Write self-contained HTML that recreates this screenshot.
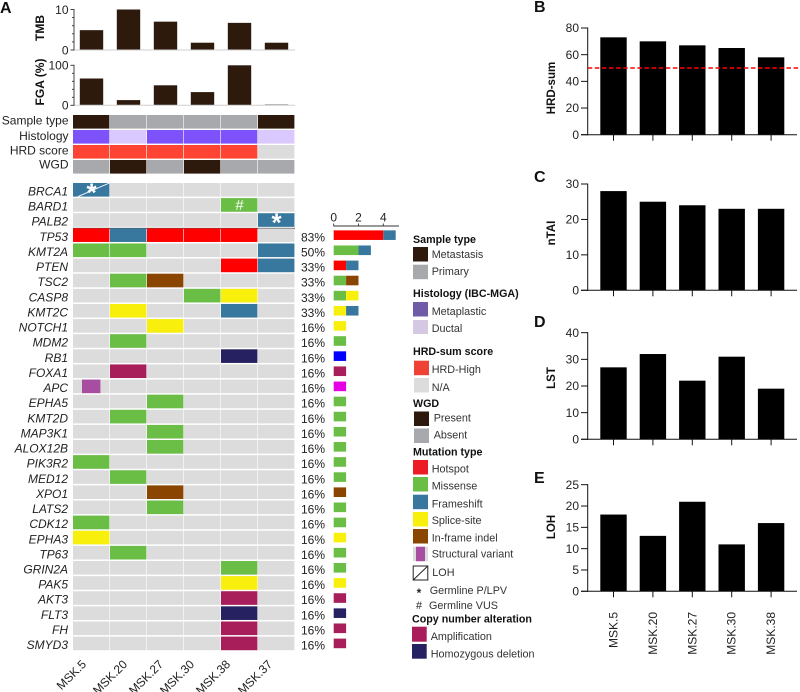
<!DOCTYPE html>
<html lang="en">
<head>
<meta charset="utf-8">
<title>Oncoprint and HRD scores</title>
<style>
html,body{margin:0;padding:0;background:#fff}
svg{display:block;font-family:"Liberation Sans",sans-serif}
.t{fill:#222;font-size:12px}
.leg{fill:#333;font-size:10.8px}
.h{fill:#111;font-size:10.7px;font-weight:bold}
.p{fill:#111;font-size:16px;font-weight:bold}
</style>
</head>
<body>
<svg id="fig" xmlns="http://www.w3.org/2000/svg" width="800" height="692" viewBox="0 0 800 692">
<rect x="0" y="0" width="800" height="692" fill="#fff"/>
<text class="p" x="0" y="13">A</text>
<text class="p" x="534" y="12">B</text>
<text class="p" x="534" y="182">C</text>
<text class="p" x="534" y="327">D</text>
<text class="p" x="534" y="483">E</text>
<g id="onco"></g>
<g id="right"></g>
<g>
<text class="h" x="413" y="243">Sample type</text>
<rect x="413" y="247" width="15" height="14.5" fill="#2e1a0d"/>
<text class="leg" x="431.7" y="258">Metastasis</text>
<rect x="413" y="264.7" width="15" height="14.5" fill="#a7a9ac"/>
<text class="leg" x="431.7" y="275">Primary</text>
<text class="h" x="413" y="297">Histology (IBC-MGA)</text>
<rect x="413" y="302" width="15" height="14.5" fill="#6f5ba8"/>
<text class="leg" x="431.7" y="315">Metaplastic</text>
<rect x="413" y="320" width="15" height="14" fill="#d5c8e3"/>
<text class="leg" x="431.7" y="332">Ductal</text>
<text class="h" x="413" y="355">HRD-sum score</text>
<rect x="414" y="360.7" width="15" height="14.5" fill="#ef4136"/>
<text class="leg" x="431.7" y="373">HRD-High</text>
<rect x="414" y="378" width="15" height="14.5" fill="#dcdcdc"/>
<text class="leg" x="431.7" y="391">N/A</text>
<text class="h" x="413" y="407">WGD</text>
<rect x="414" y="411.5" width="15" height="14.5" fill="#2e1a0d"/>
<text class="leg" x="433.7" y="421.7">Present</text>
<rect x="414" y="428.5" width="15" height="14.5" fill="#a7a9ac"/>
<text class="leg" x="433.7" y="438.7">Absent</text>
<text class="h" x="413" y="455.7">Mutation type</text>
<rect x="413" y="460" width="15" height="14.5" fill="#ed1c24"/>
<text class="leg" x="431.7" y="472.7">Hotspot</text>
<rect x="413" y="477" width="15" height="14.5" fill="#6abd45"/>
<text class="leg" x="431.7" y="489.7">Missense</text>
<rect x="413" y="494.7" width="15" height="14.5" fill="#38789f"/>
<text class="leg" x="431.7" y="507.7">Frameshift</text>
<rect x="413" y="512" width="15" height="14.5" fill="#f8ef0c"/>
<text class="leg" x="431.7" y="524">Splice-site</text>
<rect x="413" y="529" width="15" height="14.5" fill="#8a4500"/>
<text class="leg" x="431.7" y="541.7">In-frame indel</text>
<rect x="413" y="546.7" width="15" height="14.5" fill="#dcdcdc"/>
<rect x="416" y="546.7" width="9" height="14.5" fill="#a84ea0"/>
<text class="leg" x="431.7" y="557.7">Structural variant</text>
<rect x="413.2" y="566" width="14.6" height="14" fill="#fff" stroke="#222" stroke-width="1"/>
<line x1="413.2" y1="580" x2="427.8" y2="566" stroke="#222" stroke-width="1"/>
<text class="leg" x="432.3" y="576">LOH</text>
<text x="419" y="597" text-anchor="middle" fill="#222" font-size="12" font-weight="bold">*</text>
<text class="leg" x="429.7" y="594">Germline P/LPV</text>
<text x="419" y="609" text-anchor="middle" fill="#222" font-size="10.8">#</text>
<text class="leg" x="429" y="609">Germline VUS</text>
<text class="h" x="412" y="622.7">Copy number alteration</text>
<rect x="412" y="626.7" width="14.7" height="15" fill="#a81e5a"/>
<text class="leg" x="430.7" y="640">Amplification</text>
<rect x="412" y="644" width="14.7" height="14.7" fill="#262262"/>
<text class="leg" x="430.7" y="657.7">Homozygous deletion</text>
</g>
</svg>
<script>
// ---- Panel A data ----
const samples = ['MSK.5','MSK.20','MSK.27','MSK.30','MSK.38','MSK.37'];
const tmbValues = [4.9,10,7,1.8,6.7,1.8];
const fgaValues = [67,13,50,33,100,3];
const tmbTicks = [0,2,4,6,8,10];
const tmbLabels = [0,10];
const fgaTicks = [0,20,40,60,80,100];
const fgaLabels = [0,100];
const sampleTypeTrack = ['metastasis','primary','primary','primary','primary','metastasis'];
const histologyTrack = ['metaplastic','ductal','metaplastic','metaplastic','metaplastic','ductal'];
const hrdTrack = ['high','high','high','high','high','na'];
const wgdTrack = ['absent','present','absent','present','absent','absent'];
const germlineGenes = ['BRCA1','BARD1','PALB2'];
const germlineRows = [
  ['frameshift',null,null,null,null,null],
  [null,null,null,null,'missense',null],
  [null,null,null,null,null,'frameshift']
];
const germlineMarks = [
  ['*','','','','',''],
  ['','','','','#',''],
  ['','','','','','*']
];
const genes = ['TP53','KMT2A','PTEN','TSC2','CASP8','KMT2C','NOTCH1','MDM2','RB1','FOXA1','APC','EPHA5','KMT2D','MAP3K1','ALOX12B','PIK3R2','MED12','XPO1','LATS2','CDK12','EPHA3','TP63','GRIN2A','PAK5','AKT3','FLT3','FH','SMYD3'];
const geneFrequencies = ['83%','50%','33%','33%','33%','33%','16%','16%','16%','16%','16%','16%','16%','16%','16%','16%','16%','16%','16%','16%','16%','16%','16%','16%','16%','16%','16%','16%'];
const _ = null;
const alterations = [
  ['hotspot','frameshift','hotspot','hotspot','hotspot',_],
  ['missense','missense',_,_,_,'frameshift'],
  [_,_,_,_,'hotspot','frameshift'],
  [_,'missense','inframe',_,_,_],
  [_,_,_,'missense','splice',_],
  [_,'splice',_,_,'frameshift',_],
  [_,_,'splice',_,_,_],
  [_,'missense',_,_,_,_],
  [_,_,_,_,'homdel',_],
  [_,'amp',_,_,_,_],
  ['sv',_,_,_,_,_],
  [_,_,'missense',_,_,_],
  [_,'missense',_,_,_,_],
  [_,_,'missense',_,_,_],
  [_,_,'missense',_,_,_],
  ['missense',_,_,_,_,_],
  [_,'missense',_,_,_,_],
  [_,_,'inframe',_,_,_],
  [_,_,'missense',_,_,_],
  ['missense',_,_,_,_,_],
  ['splice',_,_,_,_,_],
  [_,'missense',_,_,_,_],
  [_,_,_,_,'missense',_],
  [_,_,_,_,'splice',_],
  [_,_,_,_,'amp',_],
  [_,_,_,_,'homdel',_],
  [_,_,_,_,'amp',_],
  [_,_,_,_,'amp',_]
];
const countTicks = [0,2,4];
// ---- Panels B-E data ----
const hrdSamples = ['MSK.5','MSK.20','MSK.27','MSK.30','MSK.38'];
const hrdSumValues = [73,70,67,65,58];
const hrdSumTicks = [0,20,40,60,80];
const hrdThreshold = 50;
const ntaiValues = [28,25,24,23,23];
const ntaiTicks = [0,10,20,30];
const lstValues = [27,32,22,31,19];
const lstTicks = [0,10,20,30,40];
const lohValues = [18,13,21,11,16];
const lohTicks = [0,5,10,15,20,25];

const NS = 'http://www.w3.org/2000/svg';
const colors = {metastasis:'#2e1a0d',primary:'#a7a9ac',metaplastic:'#7d52fb',ductal:'#d9c9ff',high:'#ff4433',na:'#dcdcdc',present:'#2e1a0d',absent:'#a7a9ac',hotspot:'#ff0000',missense:'#6abd45',frameshift:'#38789f',splice:'#f8ef0c',inframe:'#8a4500',sv:'#a84ea0',amp:'#a81e5a',homdel:'#262262'};
const barOverride = {RB1:'#0000ff',APC:'#e600e6'};

function el(tag, attrs, parent, text){
  const e = document.createElementNS(NS, tag);
  for (const k in attrs) e.setAttribute(k, attrs[k]);
  if (text !== undefined) e.textContent = text;
  parent.appendChild(e);
  return e;
}
function scale(d0,d1,r0,r1){ return v => r0 + (v-d0)/(d1-d0)*(r1-r0); }

const onco = document.getElementById('onco');
const right = document.getElementById('right');
const colX = i => 73 + 37*i;
const CELL_W = 36.4;
const CELL_H = 13.6;

// Top bar tracks
function topBars(name, values, ticks, labels, maxV, y0, yTop, title, titleY){
  const y = scale(0,maxV,y0,yTop);
  const g = el('g',{},onco);
  
  
  values.forEach((v,i)=>{
    const r = el('rect',{x:colX(i)+6.8,y:y(v),width:23.4,height:y0-y(v),fill:v<5&&maxV===100?'#a7a9ac':'#2e1a0d'},g);
    
    
  });
  const base = el('line',{x1:73,x2:295,y1:y0,y2:y0,stroke:'#cfcfcf','stroke-width':1},g);
  
  
  const ax = el('line',{x1:74,x2:74,y1:yTop-0.5,y2:y0+0.5,stroke:'#333','stroke-width':0.9},g);
  
  
  ticks.forEach(t=>{
    const major = labels.includes(t);
    const m = el('line',{x1:major?70.5:72,x2:74,y1:y(t),y2:y(t),stroke:'#333','stroke-width':0.9},g);
    
    
  });
  labels.forEach(t=>{
    const l = el('text',{x:68.5,y:y(t)+4.3,'text-anchor':'end','class':'t'},g,String(t));
    
    
  });
  const ttl = el('text',{transform:`translate(44,${titleY}) rotate(-90)`,'text-anchor':'middle',fill:'#111','font-size':12,'font-weight':'bold'},g,title);
  
  
}
topBars('tmb',tmbValues,tmbTicks,tmbLabels,10,50,9.5,'TMB',28);
topBars('fga',fgaValues,fgaTicks,fgaLabels,100,105.3,65.3,'FGA (%)',82);

// Annotation tracks
function track(name,label,vals,top,base){
  const l = el('text',{x:68.5,y:base,'text-anchor':'end','class':'t','font-size':12},onco,label);
  
  
  vals.forEach((v,i)=>{
    const c = el('rect',{x:colX(i),y:top,width:CELL_W,height:CELL_H,fill:colors[v]},onco);
    
    
  });
}
track('sample-type','Sample type',sampleTypeTrack,115,124.5);
track('histology','Histology',histologyTrack,130,140);
track('hrd-score','HRD score',hrdTrack,145,154.5);
track('wgd','WGD',wgdTrack,160,168.5);

// Gene rows
function rowTop(idx){ return 183 + 15.12*idx; }
function geneRow(gene,vals,top){
  const l = el('text',{x:68,y:top+12.5,'text-anchor':'end','class':'t','font-style':'italic'},onco,gene);
  
  
  vals.forEach((v,i)=>{
    const bg = el('rect',{x:colX(i),y:top,width:CELL_W,height:CELL_H,fill:'#dcdcdc'},onco);
    
    
    if(v){
      const inset = v==='sv' ? 9 : 0;
      const c = el('rect',{x:colX(i)+inset,y:top,width:CELL_W-inset*2,height:CELL_H,fill:colors[v]},onco);
      
      
    }
  });
}
germlineGenes.forEach((g,r)=>{
  const top = rowTop(r);
  geneRow(g,germlineRows[r],top);
  germlineMarks[r].forEach((m,i)=>{
    if(!m) return;
    const star = m==='*';
    const t = el('text',{x:colX(i)+18.5,y:top+(star?18.5:12),'text-anchor':'middle',fill:'#fff','font-size':star?26:15,'font-weight':star?'bold':'normal'},onco,m);
    
    
  });
});
const lohLine = el('line',{x1:colX(0)+5,y1:rowTop(0)+CELL_H,x2:colX(0)+CELL_W,y2:rowTop(0),stroke:'#fff','stroke-width':0.9},onco);


const sep = el('line',{x1:73,x2:295,y1:228.3,y2:228.3,stroke:'#222','stroke-width':0.9},onco);



const xCount = scale(0,4,333.7,383.3);
genes.forEach((g,r)=>{
  const top = rowTop(r+3);
  geneRow(g,alterations[r],top);
  const p = el('text',{x:301,y:top+13,'class':'t'},onco,geneFrequencies[r]);
  
  
  // stacked count bar, tallied from the matrix
  const order = [];
  const tally = {};
  alterations[r].forEach(a=>{ if(a){ if(!(a in tally)){ tally[a]=0; order.push(a);} tally[a]++; } });
  let cum = 0;
  order.forEach(a=>{
    const b = el('rect',{x:xCount(cum),y:top+2,width:xCount(cum+tally[a])-xCount(cum),height:9.6,fill:barOverride[g]||colors[a]},onco);
    
    
    cum += tally[a];
  });
});

// Count axis
const cAxis = el('line',{x1:333.5,x2:399,y1:226,y2:226,stroke:'#333','stroke-width':0.9},onco);


countTicks.forEach(t=>{
  const m = el('line',{x1:xCount(t),x2:xCount(t),y1:223.5,y2:226,stroke:'#333','stroke-width':0.9},onco);
  
  
  const l = el('text',{x:xCount(t),y:221.5,'text-anchor':'middle','class':'t'},onco,String(t));
  
  
});

// Sample labels
const sampleLabelEnds = [87,128,164,195,231,273];
samples.forEach((s,i)=>{
  const t = el('text',{transform:`translate(${sampleLabelEnds[i]},665) rotate(-45)`,'text-anchor':'end','class':'t','font-size':12},onco,s);
  
  
});

// Right-hand charts
const barCenter = i => 613.5 + 39.4*i;
function rightChart(name,title,values,ticks,y0,yTop,titleY,showX){
  const y = scale(0,ticks[ticks.length-1],y0,yTop);
  const g = el('g',{},right);
  
  
  values.forEach((v,i)=>{
    const b = el('rect',{x:barCenter(i)-13.2,y:y(v),width:26.4,height:y0-y(v),fill:'#000'},g);
    
    
    const tk = el('line',{x1:barCenter(i),x2:barCenter(i),y1:y0,y2:y0+6,stroke:'#111','stroke-width':1},g);
    
    
  });
  const ax = el('line',{x1:587.7,x2:587.7,y1:yTop-0.5,y2:y0+0.5,stroke:'#111','stroke-width':1},g);
  
  
  const xa = el('line',{x1:581,x2:797,y1:y0,y2:y0,stroke:'#111','stroke-width':1},g);
  
  
  ticks.forEach(t=>{
    const m = el('line',{x1:581,x2:588,y1:y(t),y2:y(t),stroke:'#111','stroke-width':1},g);
    
    
    const l = el('text',{x:579,y:y(t)+4.2,'text-anchor':'end','class':'t'},g,String(t));
    
    
  });
  const tt = el('text',{transform:`translate(555,${titleY}) rotate(-90)`,'text-anchor':'middle',fill:'#111','font-size':11.5,'font-weight':'bold'},g,title);
  
  
  if(showX){
    hrdSamples.forEach((s,i)=>{
      const l = el('text',{transform:`translate(${barCenter(i)+4},612) rotate(-90)`,'text-anchor':'end',fill:'#222','font-size':12},g,s);
      
      
    });
  }
  return y;
}
const yHrd = rightChart('hrd-sum','HRD-sum',hrdSumValues,hrdSumTicks,134.7,28,88,false);
rightChart('ntai','nTAI',ntaiValues,ntaiTicks,290.3,184,233,false);
rightChart('lst','LST',lstValues,lstTicks,439.3,332.7,378,false);
rightChart('loh','LOH',lohValues,lohTicks,591.3,484.7,527,true);
const thr = el('line',{x1:587.7,x2:800,y1:yHrd(hrdThreshold),y2:yHrd(hrdThreshold),stroke:'#ff0000','stroke-width':1.5,'stroke-dasharray':'4.5 2.6'},right);


</script>
</body>
</html>
